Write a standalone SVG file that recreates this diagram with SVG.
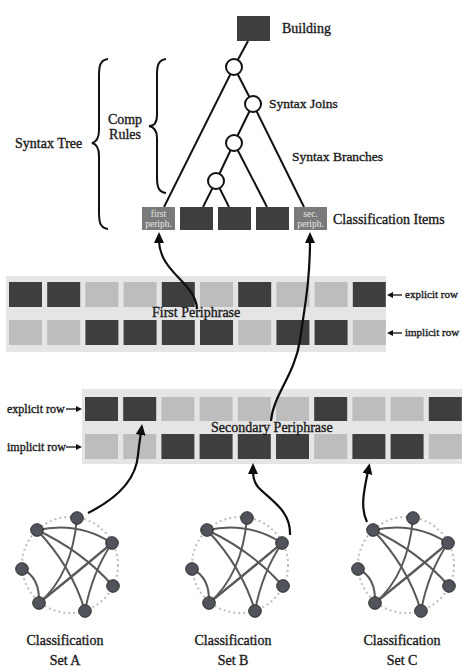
<svg xmlns="http://www.w3.org/2000/svg" xmlns:xlink="http://www.w3.org/1999/xlink" width="462" height="670" viewBox="0 0 462 670">
  <style>
    text { font-family: "Liberation Serif", "DejaVu Serif", serif; fill: #1a1a1a; stroke: #1a1a1a; stroke-width: 0.35; }
    .lbl { font-size: 14px; }
    .tl { font-size: 13.5px; }
    .sm { font-size: 12px; }
    .smr { font-size: 11px; }
    .box { font-size: 9.5px; fill: #e6e6e6; stroke: none; text-anchor: middle; }
    .dark { fill: #3e3e3e; }
    .light { fill: #bdbdbd; }
    .band { fill: #e5e5e5; }
    .per { fill: #7a7a7a; }
    .tree { stroke: #111; stroke-width: 2; fill: none; }
    .join { fill: #fff; stroke: #111; stroke-width: 2; }
    .brace { stroke: #111; stroke-width: 2; fill: none; }
    .flow { stroke: #0d0d0d; stroke-width: 2.2; fill: none; marker-end: url(#head); }
    .tick { stroke: #111; stroke-width: 1.3; fill: none; marker-end: url(#small); }
    .edge { stroke: #5a5a5a; stroke-width: 2; fill: none; }
    .ring { stroke: #bdbdbd; stroke-width: 2; stroke-dasharray: 2 3; fill: none; }
    .gn { fill: #50545a; stroke: #2e2e2e; stroke-width: 1; }
  </style>
  <defs>
    <marker id="head" markerUnits="userSpaceOnUse" markerWidth="14" markerHeight="12" refX="3" refY="5" orient="auto">
      <path d="M0,0 L11,5 L0,10 z" fill="#0d0d0d"/>
    </marker>
    <marker id="small" markerUnits="userSpaceOnUse" markerWidth="8" markerHeight="8" refX="2" refY="3" orient="auto">
      <path d="M0,0 L6,3 L0,6 z" fill="#111"/>
    </marker>
    <!-- one classification set: dotted ring, edges, seven members -->
    <g id="set">
      <circle class="ring" cx="0" cy="0" r="48"/>
      <path class="edge" d="M-33,-35 Q 8,-44 42,-22"/>
      <path class="edge" d="M-33,-35 Q 12,-14 43,21"/>
      <path class="edge" d="M-33,-35 Q 2,2 15,46"/>
      <path class="edge" d="M7,-47 Q 2,10 -31,38"/>
      <path class="edge" d="M42,-22 L -31,38"/>
      <path class="edge" d="M42,-22 Q 12,4 -31,38"/>
      <path class="edge" d="M42,-22 Q 22,8 15,46"/>
      <path class="edge" d="M-48,4 Q -30,12 -31,38"/>
      <circle class="gn" cx="7" cy="-47" r="6.3"/>
      <circle class="gn" cx="-33" cy="-35" r="6.3"/>
      <circle class="gn" cx="42" cy="-22" r="6.3"/>
      <circle class="gn" cx="-48" cy="4" r="6.3"/>
      <circle class="gn" cx="43" cy="21" r="6.3"/>
      <circle class="gn" cx="-31" cy="38" r="6.3"/>
      <circle class="gn" cx="15" cy="46" r="6.3"/>
    </g>
  </defs>

  <!-- syntax tree edges -->
  <g id="connectors">
    <path class="tree" d="M248,41 L234,67"/>
    <path class="tree" d="M234,67 L164,207"/>
    <path class="tree" d="M234,67 L253,104"/>
    <path class="tree" d="M253,104 L304,207"/>
    <path class="tree" d="M253,104 L234,143"/>
    <path class="tree" d="M234,143 L267,207"/>
    <path class="tree" d="M234,143 L216,181"/>
    <path class="tree" d="M216,181 L203,207"/>
    <path class="tree" d="M216,181 L229,207"/>
  </g>

  <!-- root and joins -->
  <g id="building">
    <rect class="dark" x="237" y="16" width="33" height="25"/>
    <text class="lbl" x="282" y="33">Building</text>
  </g>
  <g id="join1"><circle class="join" cx="234" cy="67" r="8"/></g>
  <g id="join2"><circle class="join" cx="253" cy="104" r="8"/>
    <text class="tl" x="269" y="108">Syntax Joins</text></g>
  <g id="join3"><circle class="join" cx="234" cy="143" r="8"/>
    <text class="tl" x="292" y="161">Syntax Branches</text></g>
  <g id="join4"><circle class="join" cx="216" cy="181" r="8"/></g>

  <!-- braces -->
  <g id="syntax-tree">
    <path class="brace" d="M108,59 C100,60 99,66 99,76 L99,130 C99,138 96,142 92,143 C96,144 99,148 99,156 L99,212 C99,222 100,228 108,229"/>
    <text class="lbl" x="15" y="148">Syntax Tree</text>
  </g>
  <g id="comp-rules">
    <path class="brace" d="M166,59 C158,60 157,66 157,75 L157,115 C157,122 154,126 149,126 C154,127 157,131 157,138 L157,177 C157,186 158,192 166,193"/>
    <text class="lbl" x="125" y="124" text-anchor="middle">Comp</text>
    <text class="lbl" x="125" y="139" text-anchor="middle">Rules</text>
  </g>

  <!-- classification items -->
  <g id="items">
    <rect class="per" x="142" y="207" width="33" height="23"/>
    <text class="box" x="158.5" y="217">first</text>
    <text class="box" x="158.5" y="227">periph.</text>
    <rect class="dark" x="180" y="207" width="33" height="23"/>
    <rect class="dark" x="218" y="207" width="33" height="23"/>
    <rect class="dark" x="256" y="207" width="33" height="23"/>
    <rect class="per" x="294" y="207" width="33" height="23"/>
    <text class="box" x="310.5" y="217">sec.</text>
    <text class="box" x="310.5" y="227">periph.</text>
    <text class="lbl" x="333" y="224">Classification Items</text>
  </g>

  <!-- first periphrase band -->
  <g id="first-periphrase">
    <rect class="band" x="6" y="276" width="380" height="76"/>
    <rect class="dark" x="9" y="282" width="33" height="25"/>
    <rect class="dark" x="47.2" y="282" width="33" height="25"/>
    <rect class="light" x="85.4" y="282" width="33" height="25"/>
    <rect class="light" x="123.6" y="282" width="33" height="25"/>
    <rect class="dark" x="161.8" y="282" width="33" height="25"/>
    <rect class="light" x="200" y="282" width="33" height="25"/>
    <rect class="dark" x="238.2" y="282" width="33" height="25"/>
    <rect class="light" x="276.4" y="282" width="33" height="25"/>
    <rect class="light" x="314.6" y="282" width="33" height="25"/>
    <rect class="dark" x="352.8" y="282" width="33" height="25"/>
    <rect class="light" x="9" y="320" width="33" height="25"/>
    <rect class="light" x="47.2" y="320" width="33" height="25"/>
    <rect class="dark" x="85.4" y="320" width="33" height="25"/>
    <rect class="dark" x="123.6" y="320" width="33" height="25"/>
    <rect class="dark" x="161.8" y="320" width="33" height="25"/>
    <rect class="dark" x="200" y="320" width="33" height="25"/>
    <rect class="light" x="238.2" y="320" width="33" height="25"/>
    <rect class="dark" x="276.4" y="320" width="33" height="25"/>
    <rect class="dark" x="314.6" y="320" width="33" height="25"/>
    <rect class="light" x="352.8" y="320" width="33" height="25"/>
    <text class="lbl" x="152" y="317">First Periphrase</text>
    <path class="tick" d="M402,295 L391,295"/>
    <text class="smr" x="405" y="298">explicit row</text>
    <path class="tick" d="M402,333 L391,333"/>
    <text class="smr" x="405" y="336">implicit row</text>
  </g>

  <!-- secondary periphrase band -->
  <g id="secondary-periphrase">
    <rect class="band" x="82" y="389" width="380" height="75"/>
    <rect class="dark" x="85" y="397" width="33" height="24"/>
    <rect class="dark" x="123.2" y="397" width="33" height="24"/>
    <rect class="light" x="161.4" y="397" width="33" height="24"/>
    <rect class="light" x="199.6" y="397" width="33" height="24"/>
    <rect class="light" x="237.8" y="397" width="33" height="24"/>
    <rect class="light" x="276" y="397" width="33" height="24"/>
    <rect class="dark" x="314.2" y="397" width="33" height="24"/>
    <rect class="light" x="352.4" y="397" width="33" height="24"/>
    <rect class="light" x="390.6" y="397" width="33" height="24"/>
    <rect class="dark" x="428.8" y="397" width="33" height="24"/>
    <rect class="light" x="85" y="434" width="33" height="25"/>
    <rect class="light" x="123.2" y="434" width="33" height="25"/>
    <rect class="dark" x="161.4" y="434" width="33" height="25"/>
    <rect class="dark" x="199.6" y="434" width="33" height="25"/>
    <rect class="dark" x="237.8" y="434" width="33" height="25"/>
    <rect class="dark" x="276" y="434" width="33" height="25"/>
    <rect class="light" x="314.2" y="434" width="33" height="25"/>
    <rect class="dark" x="352.4" y="434" width="33" height="25"/>
    <rect class="dark" x="390.6" y="434" width="33" height="25"/>
    <rect class="light" x="428.8" y="434" width="33" height="25"/>
    <text class="lbl" x="211" y="432">Secondary Periphrase</text>
    <text class="sm" x="7" y="413">explicit row</text>
    <path class="tick" d="M66,409 L78,409"/>
    <text class="sm" x="7" y="451">implicit row</text>
    <path class="tick" d="M66,447 L78,447"/>
  </g>

  <!-- classification sets -->
  <g id="set-a">
    <use xlink:href="#set" href="#set" transform="translate(70,565)"/>
    <text class="lbl" x="65" y="645" text-anchor="middle">Classification</text>
    <text class="lbl" x="65" y="665" text-anchor="middle">Set A</text>
  </g>
  <g id="set-b">
    <use xlink:href="#set" href="#set" transform="translate(240,565)"/>
    <text class="lbl" x="233" y="645" text-anchor="middle">Classification</text>
    <text class="lbl" x="233" y="665" text-anchor="middle">Set B</text>
  </g>
  <g id="set-c">
    <use xlink:href="#set" href="#set" transform="translate(406,565)"/>
    <text class="lbl" x="402" y="645" text-anchor="middle">Classification</text>
    <text class="lbl" x="402" y="665" text-anchor="middle">Set C</text>
  </g>

  <!-- flow arrows -->
  <g id="flows">
    <path class="flow" d="M197,309 C196,283 159,272 159,240"/>
    <path class="flow" d="M271,421 C273,395 295,375 300,340 C305,305 310,280 310,240"/>
    <path class="flow" d="M88,513 C118,498 136,480 138,455 C139,445 140,439 141,432"/>
    <path class="flow" d="M290,535 C291,510 270,500 258,487 C254,482 253,477 253,471"/>
    <path class="flow" d="M367,522 C360,508 364,490 368,471"/>
  </g>
</svg>
